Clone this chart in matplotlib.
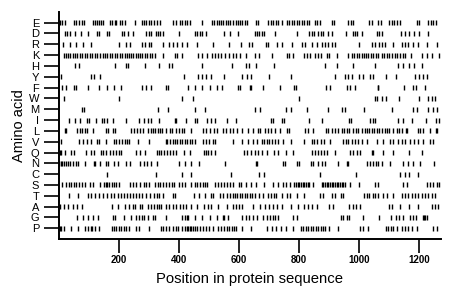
import matplotlib
matplotlib.use("Agg")
import matplotlib.pyplot as plt

amino_acids = ["P", "G", "A", "T", "S", "C", "N", "Q", "V", "L",
               "I", "M", "W", "F", "Y", "H", "K", "R", "D", "E"]

pos_E = [3,11,20,50,59,68,77,84,114,120,128,134,142,148,170,179,187,192,203,212,220,253,276,283,292,300,309,317,326,337,381,389,403,412,420,428,437,476,509,517,526,533,541,548,556,564,572,581,589,597,603,612,620,628,657,664,698,706,714,723,731,742,759,768,776,783,792,800,809,817,826,834,853,861,870,909,917,964,972,979,1034,1042,1064,1072,1101,1109,1117,1126,1137,1192,1201,1231,1239,1248,1256]
pos_D = [20,28,39,53,73,98,126,134,161,167,210,217,231,248,292,300,309,323,331,339,348,401,453,461,470,478,492,550,570,598,653,661,668,676,683,720,792,834,842,850,864,872,881,898,911,957,979,987,994,1009,1059,1067,1076,1139,1153,1168,1184,1201,1231]
pos_R = [14,37,59,81,106,201,223,239,279,288,301,309,348,368,381,394,409,426,459,514,568,606,633,644,689,698,726,742,778,809,820,842,859,876,887,898,909,920,1000,1042,1053,1067,1076,1087,1112,1144,1153,1164,1181,1198,1228,1261]
pos_K = [17,23,31,39,46,53,61,70,76,87,94,103,112,120,128,137,146,153,161,170,179,187,194,203,212,220,226,234,240,248,256,264,270,279,287,294,303,312,320,348,387,394,409,464,476,494,509,520,531,542,553,568,581,592,603,623,653,668,709,759,768,781,817,826,837,853,864,872,892,901,926,964,976,983,992,1001,1009,1017,1023,1031,1039,1048,1057,1064,1076,1083,1092,1101,1109,1120,1128,1137,1146,1153,1172,1209,1226,1242,1268]
pos_H = [53,67,187,223,231,289,334,368,378,476,576,623,634,657,717,887,926,981,1053,1131,1148,1168,1184,1209]
pos_Y = [7,109,117,139,418,464,478,490,506,550,612,628,642,701,773,920,953,964,976,1001,1012,1037,1046,1090,1122,1187,1200,1214,1228]
pos_F = [12,23,50,59,98,133,161,183,209,276,292,309,356,364,431,453,478,503,526,544,596,603,637,642,681,737,783,790,890,903,959,970,987,1062,1064,1151,1181,1190,1220]
pos_W = [18,201,412,448,801,1053,1061,1076,1090,1133,1201,1231,1242,1253]
pos_M = [79,83,331,364,453,487,653,670,756,773,826,898,942,953,1018,1109,1181,1192,1231,1246,1261]
pos_I = [33,53,70,94,100,123,144,150,161,181,223,268,283,298,309,333,387,390,423,453,459,494,506,520,559,592,706,712,742,750,834,876,968,972,1037,1046,1053,1131,1146,1176,1223,1257,1268]
pos_L = [20,23,61,70,78,87,94,114,157,164,181,189,242,250,261,270,281,298,306,314,322,331,337,344,356,370,378,392,400,409,418,442,481,492,503,518,528,546,556,570,581,594,609,631,648,664,672,687,698,706,720,737,759,768,820,831,848,890,898,909,920,931,942,950,959,968,981,990,998,1009,1020,1026,1034,1042,1050,1059,1068,1076,1087,1092,1101,1112,1126,1134,1142,1156,1159,1196,1203,1214,1237,1257,1261]
pos_V = [7,68,81,94,106,128,134,157,184,192,200,211,220,228,233,264,301,356,362,370,379,387,394,403,412,420,428,437,444,453,479,489,501,514,520,581,612,629,648,662,676,683,692,701,711,720,731,748,773,817,842,851,859,872,883,903,948,957,964,976,987,998,1009,1026,1059,1081,1103,1114,1131,1142,1153,1170,1183,1198,1214,1237,1246]
pos_Q = [3,9,20,42,50,90,106,117,142,148,159,170,181,190,201,209,259,272,289,326,334,342,350,359,370,379,392,417,437,483,490,498,506,520,617,626,642,653,664,676,694,717,731,757,781,842,853,864,872,883,894,920,970,981,994,1003,1042,1046,1081,1114,1168,1211]
pos_N = [1,7,12,18,23,31,39,46,57,64,87,118,122,139,157,164,184,198,223,239,270,283,294,309,326,401,420,439,468,553,657,661,748,753,792,801,839,848,864,878,887,931,959,964,1026,1037,1046,1057,1064,1076,1103,1148,1164,1179,1203,1251]
pos_C = [161,323,409,440,573,668,683,870,990,1137,1153,1168,1198]
pos_S = [12,23,33,42,50,59,68,76,89,103,114,139,150,157,161,168,176,184,192,200,239,248,257,272,283,292,301,320,331,339,348,356,368,376,383,401,409,420,439,453,461,470,479,487,494,520,531,542,550,559,570,581,601,606,623,639,657,683,714,731,748,757,770,783,790,796,801,807,812,818,823,829,834,848,876,881,887,892,898,903,909,914,920,926,931,937,942,948,953,970,1001,1053,1064,1148,1161,1228,1237,1248,1259,1268]
pos_T = [33,64,98,106,120,133,148,161,173,183,198,206,217,226,237,246,259,268,279,290,303,317,326,334,346,379,387,450,468,487,506,514,537,548,559,570,579,587,594,603,612,620,628,637,644,653,667,681,696,706,717,723,742,761,770,792,818,870,879,911,920,939,946,1017,1026,1034,1046,1053,1064,1079,1092,1112,1142,1153,1164,1176,1187,1198,1209,1220,1231,1242,1253]
pos_A = [3,17,31,48,61,76,179,198,220,234,246,253,270,279,298,309,317,326,334,342,356,368,381,392,403,414,423,439,461,483,498,506,531,562,581,590,601,609,646,670,687,701,714,726,742,772,796,818,829,842,861,901,914,968,981,990,1003,1101,1109,1137,1167,1198,1242,1253,1264]
pos_G = [61,81,96,114,131,181,187,217,240,257,268,276,283,298,314,320,356,409,420,426,431,453,478,503,526,546,550,564,611,623,634,648,661,681,692,703,712,720,731,781,792,939,948,959,968,1014,1068,1106,1123,1134,1148,1170,1181,1190,1212,1217,1221,1226]
pos_P = [3,9,18,42,64,87,98,106,112,122,134,176,183,192,200,209,217,223,234,259,268,301,340,348,357,368,379,390,398,409,420,426,431,437,442,448,453,461,470,481,490,501,514,531,542,550,559,568,576,583,590,612,639,694,709,723,740,757,779,806,814,823,831,840,848,857,864,872,879,887,901,931,1003,1012,1031,1090,1098,1106,1114,1128,1142,1153,1164,1176,1192,1248,1259]

positions = {
    "E": pos_E, "D": pos_D, "R": pos_R, "K": pos_K, "H": pos_H,
    "Y": pos_Y, "F": pos_F, "W": pos_W, "M": pos_M, "I": pos_I,
    "L": pos_L, "V": pos_V, "Q": pos_Q, "N": pos_N, "C": pos_C,
    "S": pos_S, "T": pos_T, "A": pos_A, "G": pos_G, "P": pos_P,
}

x_ticks = [200, 400, 600, 800, 1000, 1200]
seq_length = 1272

plt.rcParams['font.family'] = ['Liberation Sans', 'DejaVu Sans']

fig = plt.figure(figsize=(4.6, 2.99), dpi=100)
ax = fig.add_axes([0.1276, 0.2017, 0.958 - 0.1276, 0.759])

for i, aa in enumerate(amino_acids):
    ax.vlines(positions[aa], i - 0.23, i + 0.23, color="black", linewidth=1.0)

ax.set_xlim(0, seq_length)
ax.set_ylim(-0.96, 20)
ax.set_yticks(range(len(amino_acids)))
ax.set_yticklabels(amino_acids, fontsize=8)
ax.set_xticks(x_ticks)
ax.set_xticklabels([str(t) for t in x_ticks], fontsize=7, fontweight="bold")
ax.tick_params(axis="y", length=11, width=1.2, pad=3)
ax.tick_params(axis="x", length=10, width=1.2, pad=2)
for side in ["top", "right"]:
    ax.spines[side].set_visible(False)
for side in ["left", "bottom"]:
    ax.spines[side].set_linewidth(1.4)

ax.set_xlabel("Position in protein sequence", fontsize=10.7, labelpad=5)
ax.set_ylabel("Amino acid", fontsize=10.5, labelpad=2)

fig.savefig("out.png", dpi=100)
